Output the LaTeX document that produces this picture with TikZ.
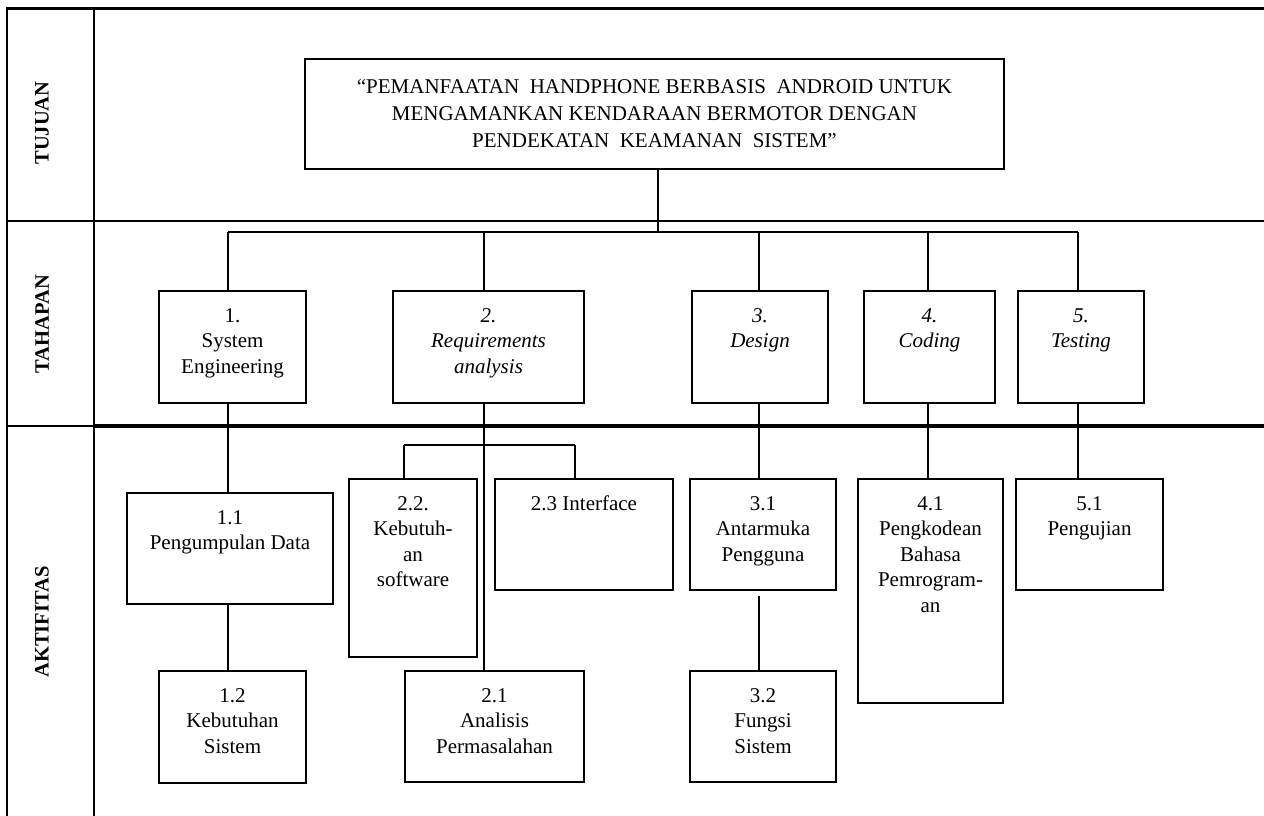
\documentclass[tikz,border=0pt]{standalone}
\usepackage{fontspec}
\setmainfont{Liberation Serif}
\newcommand{\bx}[4][31pt]{\parbox[c][#3][t]{#2}{\centering\rule{0pt}{#1}#4}}
\begin{document}
\begin{tikzpicture}[x=1pt,y=-1pt,
  frameline/.style={line width=2.4pt},
  link/.style={line width=2.4pt},
  stepbox/.style={draw, line width=2.4pt, inner sep=0pt, outer sep=0pt,
    font=\fontsize{21}{25.5}\selectfont},
  rowlabel/.style={rotate=90, inner sep=0pt, font=\fontsize{20.5}{24}\selectfont\bfseries}]
\useasboundingbox (0,0) rectangle (1264,816);

% table frame and row dividers
\draw[line width=3pt] (6,9) -- (1264,9);
\draw[frameline] (7,9) -- (7,816);
\draw[frameline] (94,9) -- (94,816);
\draw[frameline] (7,221) -- (1264,221);
\draw[frameline] (7,426) -- (94,426);
\draw[line width=4pt] (94,426) -- (1264,426);

% row labels
\node[rowlabel] (lTujuan) at (42,123) {TUJUAN};
\node[rowlabel] (lTahapan) at (42,324) {TAHAPAN};
\node[rowlabel] (lAktifitas) at (42,622) {AKTIFITAS};

% goal
\node[stepbox, font=\fontsize{21}{27.5}\selectfont] (goal) at (654.5,114)
  {\bx[34pt]{699pt}{110pt}{“PEMANFAATAN\ \ HANDPHONE BERBASIS\ \ ANDROID UNTUK\\
   MENGAMANKAN KENDARAAN BERMOTOR DENGAN\\
   PENDEKATAN\ \ KEAMANAN\ \ SISTEM”}};

% stages
\node[stepbox] (s1) at (232.5,347) {\bx{147pt}{112pt}{1.\\System\\Engineering}};
\node[stepbox] (s2) at (488.5,347) {\bx{191pt}{112pt}{\itshape 2.\\Requirements\\analysis}};
\node[stepbox] (s3) at (760,347) {\bx{136pt}{112pt}{\itshape 3.\\Design}};
\node[stepbox] (s4) at (929.5,347) {\bx{131pt}{112pt}{\itshape 4.\\Coding}};
\node[stepbox] (s5) at (1081,347) {\bx{126pt}{112pt}{\itshape 5.\\Testing}};

% activities
\node[stepbox] (a11) at (230,548.5) {\bx{206pt}{111pt}{1.1\\Pengumpulan Data}};
\node[stepbox] (a12) at (232.5,727) {\bx{147pt}{112pt}{1.2\\Kebutuhan\\Sistem}};
\node[stepbox] (a22) at (413,568) {\bx{128pt}{178pt}{2.2.\\Kebutuh-\\an\\software}};
\node[stepbox] (a23) at (584,534.5) {\bx{178pt}{111pt}{2.3 Interface}};
\node[stepbox] (a21) at (494.5,726.5) {\bx{179pt}{111pt}{2.1\\Analisis\\Permasalahan}};
\node[stepbox] (a31) at (763,534.5) {\bx{146pt}{111pt}{3.1\\Antarmuka\\Pengguna}};
\node[stepbox] (a32) at (763,726.5) {\bx{146pt}{111pt}{3.2\\Fungsi\\Sistem}};
\node[stepbox] (a41) at (930.5,591) {\bx{145pt}{224pt}{4.1\\Pengkodean\\Bahasa\\Pemrogram-\\an}};
\node[stepbox] (a51) at (1089.5,534.5) {\bx{147pt}{111pt}{5.1\\Pengujian}};

% bus points
\coordinate (hub) at (658,232);
\coordinate (b1) at (228,232);
\coordinate (b2) at (484,232);
\coordinate (b3) at (759,232);
\coordinate (b4) at (928,232);
\coordinate (b5) at (1078,232);
\coordinate (r2) at (404,445);
\coordinate (r3) at (575,445);

% goal to stages
\draw[link] (hub |- goal.south) -- (hub);
\draw[link] (b1) -- (b5);
\draw[link] (b1) -- (b1 |- s1.north);
\draw[link] (b2) -- (b2 |- s2.north);
\draw[link] (b3) -- (b3 |- s3.north);
\draw[link] (b4) -- (b4 |- s4.north);
\draw[link] (b5) -- (b5 |- s5.north);

% stages to activities
\draw[link] (b1 |- s1.south) -- (b1 |- a11.north);
\draw[link] (b1 |- a11.south) -- (b1 |- a12.north);
\draw[link] (b2 |- s2.south) -- (b2 |- a21.north);
\draw[link] (r2) -- (r3);
\draw[link] (r2) -- (r2 |- a22.north);
\draw[link] (r3) -- (r3 |- a23.north);
\draw[link] (b3 |- s3.south) -- (b3 |- a31.north);
\draw[link, shorten <=6pt] (b3 |- a31.south) -- (b3 |- a32.north);
\draw[link] (b4 |- s4.south) -- (b4 |- a41.north);
\draw[link] (b5 |- s5.south) -- (b5 |- a51.north);
\end{tikzpicture}
\end{document}
